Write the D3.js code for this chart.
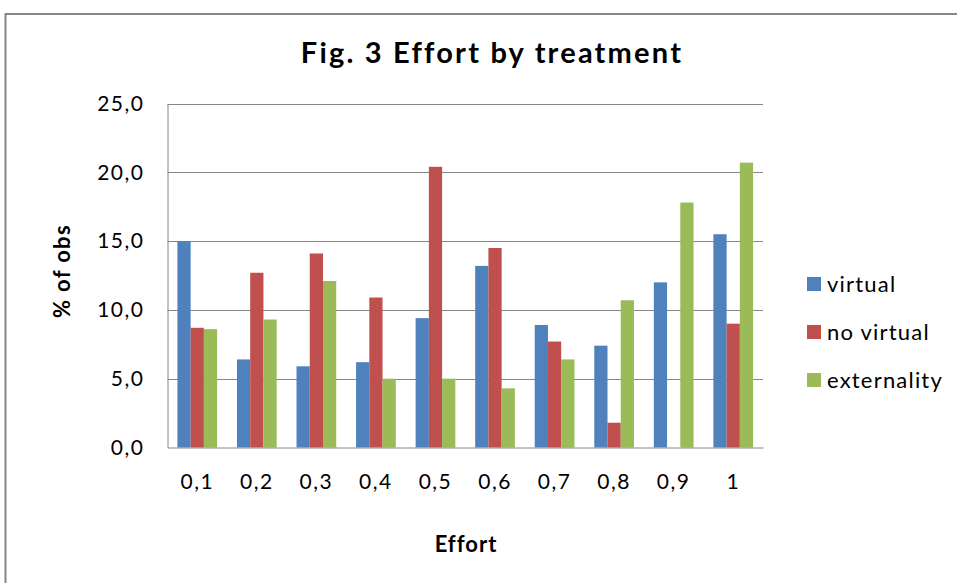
<!DOCTYPE html>
<html>
<head>
<meta charset="utf-8">
<script src="https://cdn.jsdelivr.net/npm/d3@7"></script>
<style>
  html, body { margin: 0; padding: 0; background: #fff; }
  svg { display: block; }
  text { font-family: Lato, "Open Sans", sans-serif; fill: #000; }
</style>
</head>
<body>
<svg id="chart" width="957" height="583"></svg>
<script>
const categories = ["0,1", "0,2", "0,3", "0,4", "0,5", "0,6", "0,7", "0,8", "0,9", "1"];
const seriesNames = ["virtual", "no virtual", "externality"];
const virtual = [15.0, 6.4, 5.9, 6.2, 9.4, 13.2, 8.9, 7.4, 12.0, 15.5];
const noVirtual = [8.7, 12.7, 14.1, 10.9, 20.4, 14.5, 7.7, 1.8, 0, 9.0];
const externality = [8.6, 9.3, 12.1, 5.0, 5.0, 4.3, 6.4, 10.7, 17.8, 20.7];
const yTicks = [0, 5, 10, 15, 20, 25];
const colors = ["#4F81BD", "#C0504D", "#9BBB59"];

const seriesValues = [virtual, noVirtual, externality];

const svg = d3.select("#chart");

// outer chart border
svg.append("rect")
  .attr("x", 5.5).attr("y", 14).attr("width", 1000).attr("height", 1000)
  .attr("fill", "#fff").attr("stroke", "#868686").attr("stroke-width", 2);

const plot = { left: 167.5, right: 763, top: 103.5, bottom: 447.5 };

const x0 = d3.scaleBand().domain(categories).range([plot.left, plot.right]).padding(0);
const groupW = x0.bandwidth() * 3 / 4.5;
const x1 = d3.scaleBand().domain(seriesNames).range([0, groupW]).padding(0);
const y = d3.scaleLinear().domain([0, 25]).range([plot.bottom, plot.top]);

const fmt = v => d3.format(".1f")(v).replace(".", ",");

// gridlines
svg.append("g")
  .selectAll("line").data(yTicks.filter(t => t > 0)).join("line")
  .attr("x1", plot.left).attr("x2", plot.right)
  .attr("y1", d => Math.round(y(d)) + 0.5).attr("y2", d => Math.round(y(d)) + 0.5)
  .attr("stroke", "#868686").attr("stroke-width", 1);

// y axis
const yAxis = d3.axisLeft(y).tickValues(yTicks).tickFormat(fmt).tickSize(0).tickPadding(23);
const gy = svg.append("g").attr("transform", `translate(${plot.left},0)`).call(yAxis);
gy.select(".domain").attr("stroke", "#868686");
gy.selectAll("text").style("font-family", "Lato, sans-serif").style("font-size", "21px")
  .style("letter-spacing", "1.5px").attr("fill", "#000");

// bars
const groups = svg.append("g").selectAll("g").data(categories).join("g")
  .attr("transform", d => `translate(${x0(d) + (x0.bandwidth() - groupW) / 2},0)`);
groups.selectAll("rect")
  .data((c, i) => seriesNames.map((s, j) => ({ s, j, v: seriesValues[j][i] })))
  .join("rect")
  .attr("x", d => x1(d.s))
  .attr("width", x1.bandwidth())
  .attr("y", d => y(d.v))
  .attr("height", d => y(0) - y(d.v))
  .attr("fill", d => colors[d.j]);

// x axis
const xAxis = d3.axisBottom(x0).tickSize(0).tickPadding(27);
const gx = svg.append("g").attr("transform", `translate(0,${plot.bottom})`).call(xAxis);
gx.select(".domain").attr("stroke", "#868686");
gx.selectAll("text").style("font-family", "Lato, sans-serif").style("font-size", "21px")
  .style("letter-spacing", "1.5px").attr("fill", "#000");

// title
svg.append("text").attr("x", 492).attr("y", 63).attr("text-anchor", "middle")
  .style("font-size", "29px").style("font-weight", "bold").style("letter-spacing", "2.2px")
  .text("Fig. 3 Effort by treatment");

// axis titles
svg.append("text").attr("x", 466).attr("y", 552).attr("text-anchor", "middle")
  .style("font-size", "22px").style("font-weight", "bold").style("letter-spacing", "1px")
  .text("Effort");
svg.append("text").attr("transform", "translate(70,271) rotate(-90)").attr("text-anchor", "middle")
  .style("font-size", "22px").style("font-weight", "bold").style("letter-spacing", "1.3px")
  .text("% of obs");

// legend
const legend = svg.append("g").selectAll("g").data(seriesNames).join("g")
  .attr("transform", (d, i) => `translate(807,${284 + i * 48})`);
legend.append("rect").attr("x", 0).attr("y", -7).attr("width", 14).attr("height", 14)
  .attr("fill", (d, i) => colors[i]);
legend.append("text").attr("x", 20).attr("y", 0).attr("dy", "0.35em")
  .style("font-size", "22px").style("letter-spacing", "1.2px").text(d => d);
</script>
</body>
</html>
